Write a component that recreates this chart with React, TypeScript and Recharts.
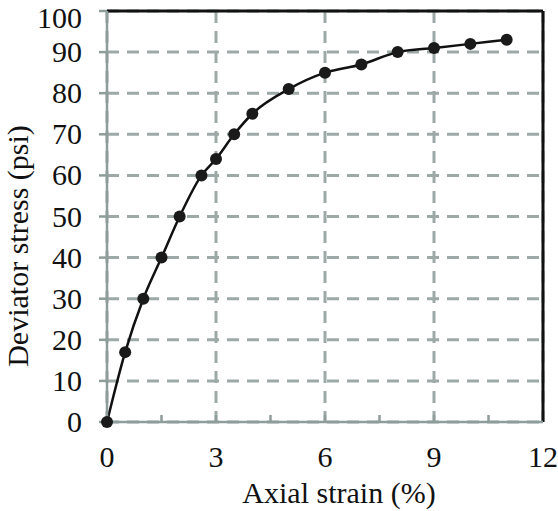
import React from "react";
import {
  CartesianGrid,
  Line,
  LineChart,
  ReferenceLine,
  XAxis,
  YAxis,
} from "recharts";

const strain = [0, 0.5, 1, 1.5, 2, 2.6, 3, 3.5, 4, 5, 6, 7, 8, 9, 10, 11];
const stress = [0, 17, 30, 40, 50, 60, 64, 70, 75, 81, 85, 87, 90, 91, 92, 93];
const xTicks = [0, 3, 6, 9, 12];
const xMinorTicks = [1.5, 3, 4.5, 6, 7.5, 9, 10.5];
const yTicks = [0, 10, 20, 30, 40, 50, 60, 70, 80, 90, 100];

const data = strain.map((x, i) => ({ x, y: stress[i] }));

const FONT = "Liberation Serif";
const GRID = "#9ca9a7";
const AXIS = "#8e9c9a";

const XTick = (props: any) => (
  <text
    x={props.x}
    y={props.y}
    dy={21}
    textAnchor="middle"
    fontFamily={FONT}
    fontSize={30}
    fill="#111"
  >
    {props.payload.value}
  </text>
);

// keep the top label inside the picture
const YTick = (props: any) => (
  <text
    x={props.x}
    y={props.y}
    dy={Math.max(10, 28 - props.y)}
    textAnchor="end"
    fontFamily={FONT}
    fontSize={30}
    fill="#111"
  >
    {props.payload.value}
  </text>
);

const YLabel = () => (
  <text
    x={28}
    y={246}
    transform="rotate(-90 28 246)"
    textAnchor="middle"
    fontFamily={FONT}
    fontSize={30}
    fill="#111"
  >
    Deviator stress (psi)
  </text>
);

const XLabel = () => (
  <text x={339} y={503} textAnchor="middle" fontFamily={FONT} fontSize={30} fill="#111">
    Axial strain (%)
  </text>
);

const App = () => {
  return (
    <div style={{ position: "absolute", left: 0, top: 0, width: 558, height: 511, background: "#fff" }}>
      <LineChart
        width={558}
        height={511}
        data={data}
        margin={{ top: 11, right: 15, bottom: 0, left: 0 }}
      >
        <CartesianGrid stroke={GRID} strokeWidth={3} strokeDasharray="12 8" />
        <ReferenceLine y={100} stroke="#111" strokeWidth={3} />
        <ReferenceLine x={12} stroke="#111" strokeWidth={3} />
        <XAxis
          dataKey="x"
          type="number"
          domain={[0, 12]}
          ticks={xTicks}
          interval={0}
          height={89}
          tickLine={false}
          tickSize={0}
          tickMargin={24}
          axisLine={{ stroke: AXIS, strokeWidth: 2.5 }}
          tick={<XTick />}
          label={<XLabel />}
        />
        <XAxis
          xAxisId="minor"
          dataKey="x"
          type="number"
          domain={[0, 12]}
          ticks={xMinorTicks}
          interval={0}
          mirror
          axisLine={false}
          tickSize={7}
          tickLine={{ stroke: AXIS, strokeWidth: 2.5 }}
          tickFormatter={() => ""}
        />
        <YAxis
          type="number"
          domain={[0, 100]}
          ticks={yTicks}
          interval={0}
          width={107}
          tickSize={8}
          tickMargin={17}
          tickLine={{ stroke: AXIS, strokeWidth: 2.5 }}
          axisLine={{ stroke: AXIS, strokeWidth: 2.5 }}
          tick={<YTick />}
          label={<YLabel />}
        />
        <Line
          dataKey="y"
          type="monotone"
          stroke="#111"
          strokeWidth={2.5}
          dot={{ r: 6, fill: "#1a1a1a", stroke: "#1a1a1a", strokeWidth: 0 }}
          activeDot={false}
          isAnimationActive={false}
        />
      </LineChart>
    </div>
  );
};

export default App;
